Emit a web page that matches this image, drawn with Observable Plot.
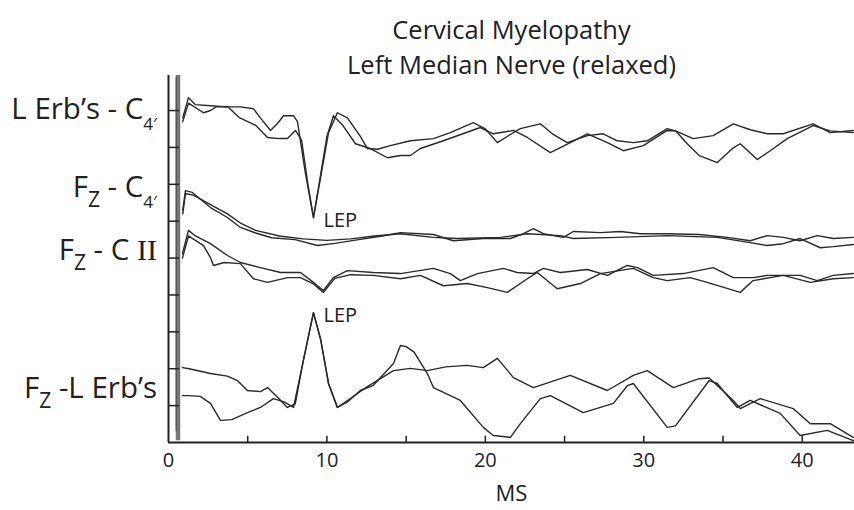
<!DOCTYPE html>
<html><head><meta charset="utf-8">
<script src="https://cdn.jsdelivr.net/npm/d3@7"></script>
<script src="https://cdn.jsdelivr.net/npm/@observablehq/plot@0.6"></script>
<style>body{margin:0;background:#fff;} svg{display:block;}</style>
</head><body><div id="chart"></div>
<script>
// ---- text ----
const titleLines = ["Cervical Myelopathy", "Left Median Nerve (relaxed)"];
const xLabel = "MS";
const xTickLabels = [0, 10, 20, 30, 40];
const xMinorTicks = [5, 10, 15, 20, 25, 30, 35, 40];
const yTicks = [1, 2, 3, 4, 5, 6, 7, 8, 9];
const channelLabels = [
  [["L Erb’s - C", ""], ["4′", "sub4"]],
  [["F", ""], ["Z", "subZ"], [" - C", ""], ["4′", "sub4"]],
  [["F", ""], ["Z", "subZ"], [" - C ", ""], ["II", "roman"]],
  [["F", ""], ["Z", "subZ"], [" -L Erb’s", ""]]
];
const channelLabelAmp = [8.75, 6.64, 4.93, 1.19];
const lepLabel = "LEP";
const lepMs = [9.15, 9.15];
const lepAmp = [6.10, 3.52];
const artifactMs = 0.6;

// ---- traces: [ms, amplitude (divisions)] ----
const erbC4Trial1 = [[0.9,8.8],[1.26,9.35],[1.7,9.16],[2.65,9.13],[3.72,9.1],[4.54,9.1],[5.36,9.05],[5.8,8.8],[6.44,8.46],[6.88,8.65],[7.26,8.86],[7.89,8.86],[8.14,8.7],[8.64,7.3],[9.15,6.1],[9.65,7.3],[10.1,8.4],[10.66,8.94],[11.29,8.8],[12.11,8.3],[12.56,7.97],[13.2,7.95],[14.0,8.05],[15.27,8.18],[16.72,8.24],[17.79,8.4],[19.24,8.67],[20.0,8.5],[20.76,8.13],[21.58,8.35],[22.21,8.51],[23.47,8.64],[24.23,8.37],[25.17,8.13],[26.44,8.32],[27.44,8.37],[28.33,8.18],[29.34,8.13],[30.22,8.18],[31.48,8.51],[32.0,8.45],[33.12,8.24],[34.38,8.32],[35.65,8.64],[36.72,8.48],[37.79,8.37],[38.8,8.37],[40.69,8.64],[41.77,8.40],[43.22,8.46]];
const erbC4Trial2 = [[0.9,8.7],[1.26,9.2],[2.21,8.94],[2.65,9.0],[3.0,9.1],[3.72,9.11],[4.5,8.8],[5.5,8.6],[6.25,8.27],[7.0,8.24],[7.51,8.24],[8.01,8.46],[8.4,8.2],[8.8,7.0],[9.15,6.1],[9.5,7.0],[10.0,8.3],[10.41,8.86],[11.0,8.6],[11.8,8.1],[12.74,7.97],[13.82,7.72],[14.64,7.78],[15.27,7.78],[15.9,7.97],[17.35,8.18],[19.68,8.54],[20.5,8.37],[21.77,8.46],[22.65,8.27],[24.1,7.86],[25.36,8.13],[26.44,8.37],[27.7,8.13],[28.71,7.91],[29.97,8.05],[31.48,8.46],[32.0,8.45],[32.74,8.1],[33.5,7.78],[34.64,7.59],[35.65,7.99],[36.09,8.10],[37.16,7.67],[37.98,7.91],[39.05,8.24],[40.69,8.59],[41.77,8.45],[43.22,8.40]];
const fzC4Trial1 = [[0.9,6.3],[1.07,6.83],[1.5,6.78],[2.65,6.37],[3.72,6.10],[4.54,5.83],[5.5,5.68],[6.5,5.55],[8.0,5.5],[9.4,5.34],[10.5,5.40],[12.0,5.5],[13.5,5.6],[14.64,5.69],[16.72,5.64],[17.98,5.47],[19.87,5.53],[21.58,5.53],[22.4,5.66],[23.03,5.80],[23.66,5.66],[24.92,5.56],[25.55,5.72],[27.26,5.69],[28.52,5.72],[29.78,5.66],[31.48,5.66],[33.5,5.64],[35.27,5.56],[36.72,5.47],[37.79,5.61],[38.8,5.56],[39.87,5.47],[40.95,5.61],[41.96,5.53],[43.22,5.56]];
const fzC4Trial2 = [[0.9,6.2],[1.07,6.75],[1.6,6.70],[2.65,6.45],[3.72,6.2],[4.54,5.95],[5.5,5.75],[7.0,5.6],[8.5,5.52],[10.0,5.48],[11.5,5.52],[13.0,5.60],[14.64,5.66],[16.72,5.56],[18.23,5.53],[20.95,5.56],[22.65,5.66],[24.73,5.61],[25.55,5.53],[28.33,5.56],[31.48,5.61],[34.64,5.56],[36.72,5.42],[37.79,5.34],[38.8,5.39],[39.87,5.53],[41.14,5.28],[41.96,5.31],[43.22,5.37]];
const fzC2Trial1 = [[0.88,5.12],[1.26,5.75],[1.7,5.6],[2.65,5.39],[3.72,5.07],[4.54,4.88],[5.8,4.74],[7.07,4.61],[8.33,4.61],[9.15,4.34],[9.78,4.12],[10.41,4.47],[11.29,4.66],[12.93,4.61],[14.64,4.58],[16.72,4.72],[17.79,4.58],[18.42,4.39],[19.5,4.58],[21.14,4.72],[22.0,4.61],[23.03,4.58],[23.66,4.72],[24.73,4.61],[26.44,4.69],[27.7,4.53],[28.96,4.80],[29.6,4.74],[30.6,4.53],[32.49,4.58],[34.38,4.74],[35.65,4.47],[36.9,4.47],[37.79,4.53],[39.87,4.53],[40.95,4.39],[41.96,4.53],[43.22,4.58]];
const fzC2Trial2 = [[0.88,5.0],[1.26,5.6],[2.21,5.34],[2.65,5.01],[2.84,4.80],[3.5,4.88],[4.54,4.85],[5.36,4.44],[6.25,4.34],[7.51,4.47],[8.33,4.47],[9.15,4.30],[9.78,4.07],[10.5,4.45],[11.5,4.55],[12.93,4.53],[14.64,4.44],[15.9,4.53],[17.35,4.25],[18.86,4.31],[20.13,4.20],[21.39,4.07],[22.65,4.44],[23.28,4.61],[24.54,4.17],[26.0,4.31],[27.26,4.58],[29.34,4.72],[30.6,4.47],[31.48,4.39],[32.93,4.47],[34.0,4.34],[36.09,4.07],[36.9,4.39],[38.8,4.53],[40.51,4.34],[41.96,4.44],[43.22,4.47]];
const fzErbTrial1 = [[0.88,2.03],[1.3,2.0],[2.65,1.87],[3.72,1.80],[4.35,1.68],[4.98,1.41],[5.8,1.38],[6.25,1.49],[6.9,1.22],[7.5,0.95],[8.0,1.05],[8.5,2.2],[9.15,3.52],[9.6,2.8],[10.1,1.6],[10.66,0.95],[11.3,1.1],[12.11,1.41],[12.93,1.55],[14.2,2.14],[14.64,2.63],[15.0,2.6],[15.5,2.45],[16.34,1.87],[16.72,1.49],[18.42,1.14],[19.87,0.41],[20.5,0.19],[21.58,0.14],[22.21,0.51],[23.47,1.19],[24.1,1.27],[26.18,0.81],[28.08,1.06],[28.96,1.54],[29.34,1.60],[31.48,0.41],[32.0,0.45],[34.13,1.68],[34.64,1.6],[35.9,0.95],[36.72,1.14],[38.61,0.79],[39.87,0.19],[41.58,0.33],[43.22,0.05]];
const fzErbTrial2 = [[0.88,1.27],[1.3,1.27],[2.0,1.25],[2.65,1.06],[3.28,0.60],[4.0,0.62],[4.98,0.81],[5.8,0.95],[6.62,1.19],[7.3,1.1],[7.89,0.95],[8.5,2.2],[9.15,3.52],[9.6,2.8],[10.1,1.6],[10.66,0.95],[11.5,1.2],[12.5,1.5],[14.2,1.95],[15.27,2.01],[16.34,1.95],[17.5,2.05],[18.86,2.09],[19.87,2.03],[20.76,2.28],[21.77,1.76],[23.03,1.49],[25.36,1.82],[27.7,1.41],[29.34,1.82],[30.22,1.95],[31.86,1.49],[33.5,1.73],[34.13,1.75],[35.65,1.14],[36.09,0.92],[37.35,1.19],[39.43,0.92],[40.51,0.51],[41.77,0.51],[43.22,0.14]];

const traces = {erbC4Trial1, erbC4Trial2, fzC4Trial1, fzC4Trial2, fzC2Trial1, fzC2Trial2, fzErbTrial1, fzErbTrial2};
const rows = Object.entries(traces).flatMap(([name, pts]) => pts.map(([ms, amp]) => ({name, ms, amp})));

const font = "'Open Sans', 'DejaVu Sans', sans-serif";
const ink = "#222";

const plot = Plot.plot({
  width: 854, height: 510,
  marginLeft: 168, marginRight: 0, marginTop: 75, marginBottom: 68,
  style: {fontFamily: font, fontSize: "20px", color: ink, background: "#fff"},
  x: {domain: [0, 43.3], ticks: xTickLabels, tickSize: 0, tickPadding: 10, label: null},
  y: {domain: [0, 9.95], axis: null},
  marks: [
    Plot.ruleX([artifactMs], {y1: 0.05, y2: 9.95, stroke: "#777", strokeWidth: 4.5}),
    Plot.ruleX([artifactMs - 0.12], {y1: 0.3, y2: 9.9, stroke: "#444", strokeWidth: 1}),
    Plot.line(rows, {x: "ms", y: "amp", z: "name", stroke: "#2a2a2a", strokeWidth: 1.4}),
    Plot.ruleY(yTicks, {x1: 0, x2: 0.7, stroke: ink, strokeWidth: 1.5}),
    Plot.ruleX(xMinorTicks, {y1: 0, y2: 0.17, stroke: ink, strokeWidth: 1.5}),
    Plot.ruleX([0], {y1: 0, y2: 9.95, stroke: ink, strokeWidth: 2}),
    Plot.ruleY([0], {x1: 0, x2: 43.3, stroke: ink, strokeWidth: 2.2}),
    Plot.text(lepMs.map((ms, i) => ({ms, amp: lepAmp[i]})), {x: "ms", y: "amp", text: () => lepLabel, textAnchor: "start", dx: 10, dy: 3, fontSize: 20, fill: ink}),
    Plot.text([titleLines.join("\n")], {frameAnchor: "top", lineAnchor: "top", dy: -61, fontSize: 25.5, lineHeight: 1.37, fill: ink}),
    Plot.text([xLabel], {frameAnchor: "bottom", lineAnchor: "bottom", dy: 58, fontSize: 22, fill: ink})
  ]
});
document.getElementById("chart").appendChild(plot);

// channel labels with subscripts, placed through the plot's scales
const ys = plot.scale("y"), xs = plot.scale("x");
const svg = d3.select(plot);
const g = svg.append("g").attr("font-family", font).attr("fill", ink).attr("font-size", 29.5);
channelLabels.forEach((parts, i) => {
  const t = g.append("text").attr("text-anchor", "end")
    .attr("x", xs.apply(0) - 11).attr("y", ys.apply(channelLabelAmp[i]));
  let shift = 0;
  parts.forEach(([s, kind]) => {
    const span = t.append("tspan").text(s);
    let target = 0;
    if (kind === "subZ") { span.attr("font-size", 21); target = 10; }
    else if (kind === "sub4") { span.attr("font-size", 17); target = 11; }
    else if (kind === "roman") { span.attr("font-family", "'Liberation Serif', serif").attr("font-size", 30); }
    if (target !== shift) { span.attr("dy", target - shift); shift = target; }
  });
});
</script>
</body></html>
